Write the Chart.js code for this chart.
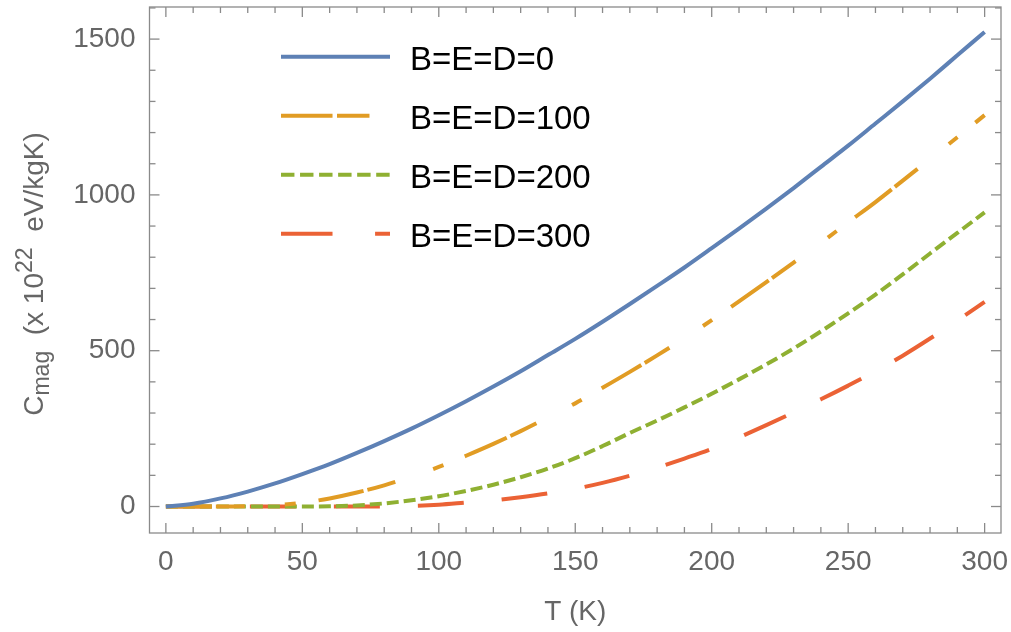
<!DOCTYPE html>
<html>
<head>
<meta charset="utf-8">
<script src="https://cdn.jsdelivr.net/npm/chart.js@4.4.1/dist/chart.umd.min.js"></script>
<style>
    html, body { margin: 0; padding: 0; background: #fff; }
    #wrap { width: 1011px; height: 632px; }
</style>
</head>
<body>
<div id="wrap"><canvas id="cmagChart" width="1011" height="632"></canvas></div>
<script>
// temperature (K)
const temps = [0, 10, 20, 30, 40, 50, 60, 70, 80, 90, 100, 110, 120, 130, 140, 150,
    160, 170, 180, 190, 200, 210, 220, 230, 240, 250, 260, 270, 280, 290, 300];

// C_mag (x 10^22 eV/kgK)
const cmagB0 = [0, 9, 26, 48, 74, 104, 136, 172, 210, 250, 293, 338, 385, 434, 486, 538,
    593, 650, 708, 767, 829, 892, 956, 1022, 1090, 1158, 1229, 1300, 1373, 1448, 1523];
const cmagB100 = [0, 0, 0, 1, 4, 12, 26, 45, 68, 96, 127, 163, 201, 242, 286, 331,
    381, 432, 485, 540, 598, 658, 720, 783, 846, 912, 977, 1046, 1115, 1185, 1256];
const cmagB200 = [0, 0, 0, 0, 0, 0, 0.5, 3.5, 10, 20, 33, 50, 70, 94, 122, 155,
    194, 236, 276, 318, 362, 408, 456, 507, 562, 620, 680, 745, 812, 878, 944];
const cmagB300 = [0, 0, 0, 0, 0, 0, 0, 0, 0.5, 2, 6, 13, 20, 30, 42, 57,
    76, 99, 125, 154, 185, 222, 261, 302, 344, 388, 434, 484, 539, 597, 657];

const seriesLabels = ['B=E=D=0', 'B=E=D=100', 'B=E=D=200', 'B=E=D=300'];
const xTicks = [0, 50, 100, 150, 200, 250, 300];
const yTicks = [0, 500, 1000, 1500];

const FONT = "'Liberation Sans', Arial, sans-serif";
const GREY = '#666666';

function toPoints(values) {
    return temps.map((t, i) => ({ x: t, y: values[i] }));
}

// Mathematica style frame with inward ticks on all four sides
const framePlugin = {
    id: 'frame',
    afterDatasetsDraw(chart) {
        const { ctx, chartArea: a, scales: { x, y } } = chart;
        ctx.save();
        ctx.strokeStyle = '#8a8a8a';
        ctx.lineWidth = 1.3;
        ctx.strokeRect(a.left, a.top, a.right - a.left, a.bottom - a.top);

        const seg = (x0, y0, x1, y1) => {
            ctx.beginPath();
            ctx.moveTo(x0, y0);
            ctx.lineTo(x1, y1);
            ctx.stroke();
        };
        for (let v = xTicks[0]; v <= xTicks[xTicks.length - 1]; v += 10) {
            const px = x.getPixelForValue(v);
            const len = v % 50 === 0 ? 10 : 6;
            seg(px, a.bottom, px, a.bottom - len);
            seg(px, a.top, px, a.top + len);
        }
        for (let v = -100; v <= 1600; v += 100) {
            const py = y.getPixelForValue(v);
            if (py < a.top || py > a.bottom) continue;
            const len = v % 500 === 0 ? 10 : 6;
            seg(a.left, py, a.left + len, py);
            seg(a.right, py, a.right - len, py);
        }
        ctx.restore();
    }
};

// legend drawn inside the plot, upper left
const insideLegend = {
    id: 'insideLegend',
    afterDraw(chart) {
        const { ctx } = chart;
        ctx.save();
        chart.data.datasets.forEach((ds, i) => {
            const ly = 56.7 + i * 59;
            ctx.strokeStyle = ds.borderColor;
            ctx.lineWidth = ds.borderWidth;
            ctx.setLineDash((ds.borderDash || []).map(d => d * 1.12));
            ctx.beginPath();
            ctx.moveTo(281, ly);
            ctx.lineTo(390, ly);
            ctx.stroke();
            ctx.setLineDash([]);
            ctx.fillStyle = '#000';
            ctx.font = '33px ' + FONT;
            ctx.textBaseline = 'alphabetic';
            ctx.fillText(ds.label, 410, ly + 13.5);
        });
        ctx.restore();
    }
};

// y axis title with subscript and superscript
const yTitle = {
    id: 'yTitle',
    afterDraw(chart) {
        const { ctx } = chart;
        const parts = [
            { text: 'C', size: 28, shift: 0 },
            { text: 'mag', size: 23, shift: 6 },
            { text: '  (x 10', size: 28, shift: 0 },
            { text: '22', size: 23, shift: -11 },
            { text: '  eV/kgK)', size: 28, shift: 0 }
        ];
        ctx.save();
        ctx.translate(43, 274);
        ctx.rotate(-Math.PI / 2);
        ctx.fillStyle = GREY;
        ctx.textBaseline = 'alphabetic';
        let total = 0;
        parts.forEach(p => {
            ctx.font = p.size + 'px ' + FONT;
            p.w = ctx.measureText(p.text).width;
            total += p.w;
        });
        let cx = -total / 2;
        parts.forEach(p => {
            ctx.font = p.size + 'px ' + FONT;
            ctx.fillText(p.text, cx, p.shift);
            cx += p.w;
        });
        ctx.restore();
    }
};

const ctx = document.getElementById('cmagChart').getContext('2d');
new Chart(ctx, {
    type: 'line',
    data: {
        datasets: [
            {
                label: seriesLabels[0],
                data: toPoints(cmagB0),
                borderColor: '#5E81B5',
                borderWidth: 4,
                borderDash: []
            },
            {
                label: seriesLabels[1],
                data: toPoints(cmagB100),
                borderColor: '#E19C24',
                borderWidth: 4,
                borderDash: [46, 4, 29, 40, 11, 23]
            },
            {
                label: seriesLabels[2],
                data: toPoints(cmagB200),
                borderColor: '#8FB032',
                borderWidth: 4,
                borderDash: [12, 5]
            },
            {
                label: seriesLabels[3],
                data: toPoints(cmagB300),
                borderColor: '#EB6235',
                borderWidth: 4,
                borderDash: [46, 38]
            }
        ]
    },
    options: {
        responsive: false,
        animation: false,
        layout: { padding: { top: 7, right: 10, left: 0, bottom: 0 } },
        elements: {
            point: { radius: 0 },
            line: { cubicInterpolationMode: 'monotone', fill: false, borderCapStyle: 'butt' }
        },
        plugins: {
            legend: { display: false },
            tooltip: { enabled: false }
        },
        scales: {
            x: {
                type: 'linear',
                min: -6,
                max: 306,
                grid: { display: false, drawTicks: false },
                border: { display: false },
                afterBuildTicks: scale => { scale.ticks = xTicks.map(v => ({ value: v })); },
                afterFit: scale => {
                    scale.height = 99;
                    scale.paddingLeft = 0;
                    scale.paddingRight = 0;
                },
                ticks: {
                    autoSkip: false,
                    maxRotation: 0,
                    padding: 12,
                    color: GREY,
                    font: { family: FONT, size: 28 },
                    callback: v => String(v)
                },
                title: {
                    display: true,
                    text: 'T (K)',
                    color: GREY,
                    font: { family: FONT, size: 28 },
                    padding: { top: 0, bottom: 3 }
                }
            },
            y: {
                type: 'linear',
                min: -85,
                max: 1603,
                grid: { display: false, drawTicks: false },
                border: { display: false },
                afterBuildTicks: scale => { scale.ticks = yTicks.map(v => ({ value: v })); },
                afterFit: scale => {
                    scale.width = 149.5;
                    scale.paddingTop = 0;
                    scale.paddingBottom = 0;
                },
                ticks: {
                    autoSkip: false,
                    padding: 14,
                    color: GREY,
                    font: { family: FONT, size: 28 },
                    callback: v => String(v)
                }
            }
        }
    },
    plugins: [framePlugin, insideLegend, yTitle]
});
</script>
</body>
</html>
